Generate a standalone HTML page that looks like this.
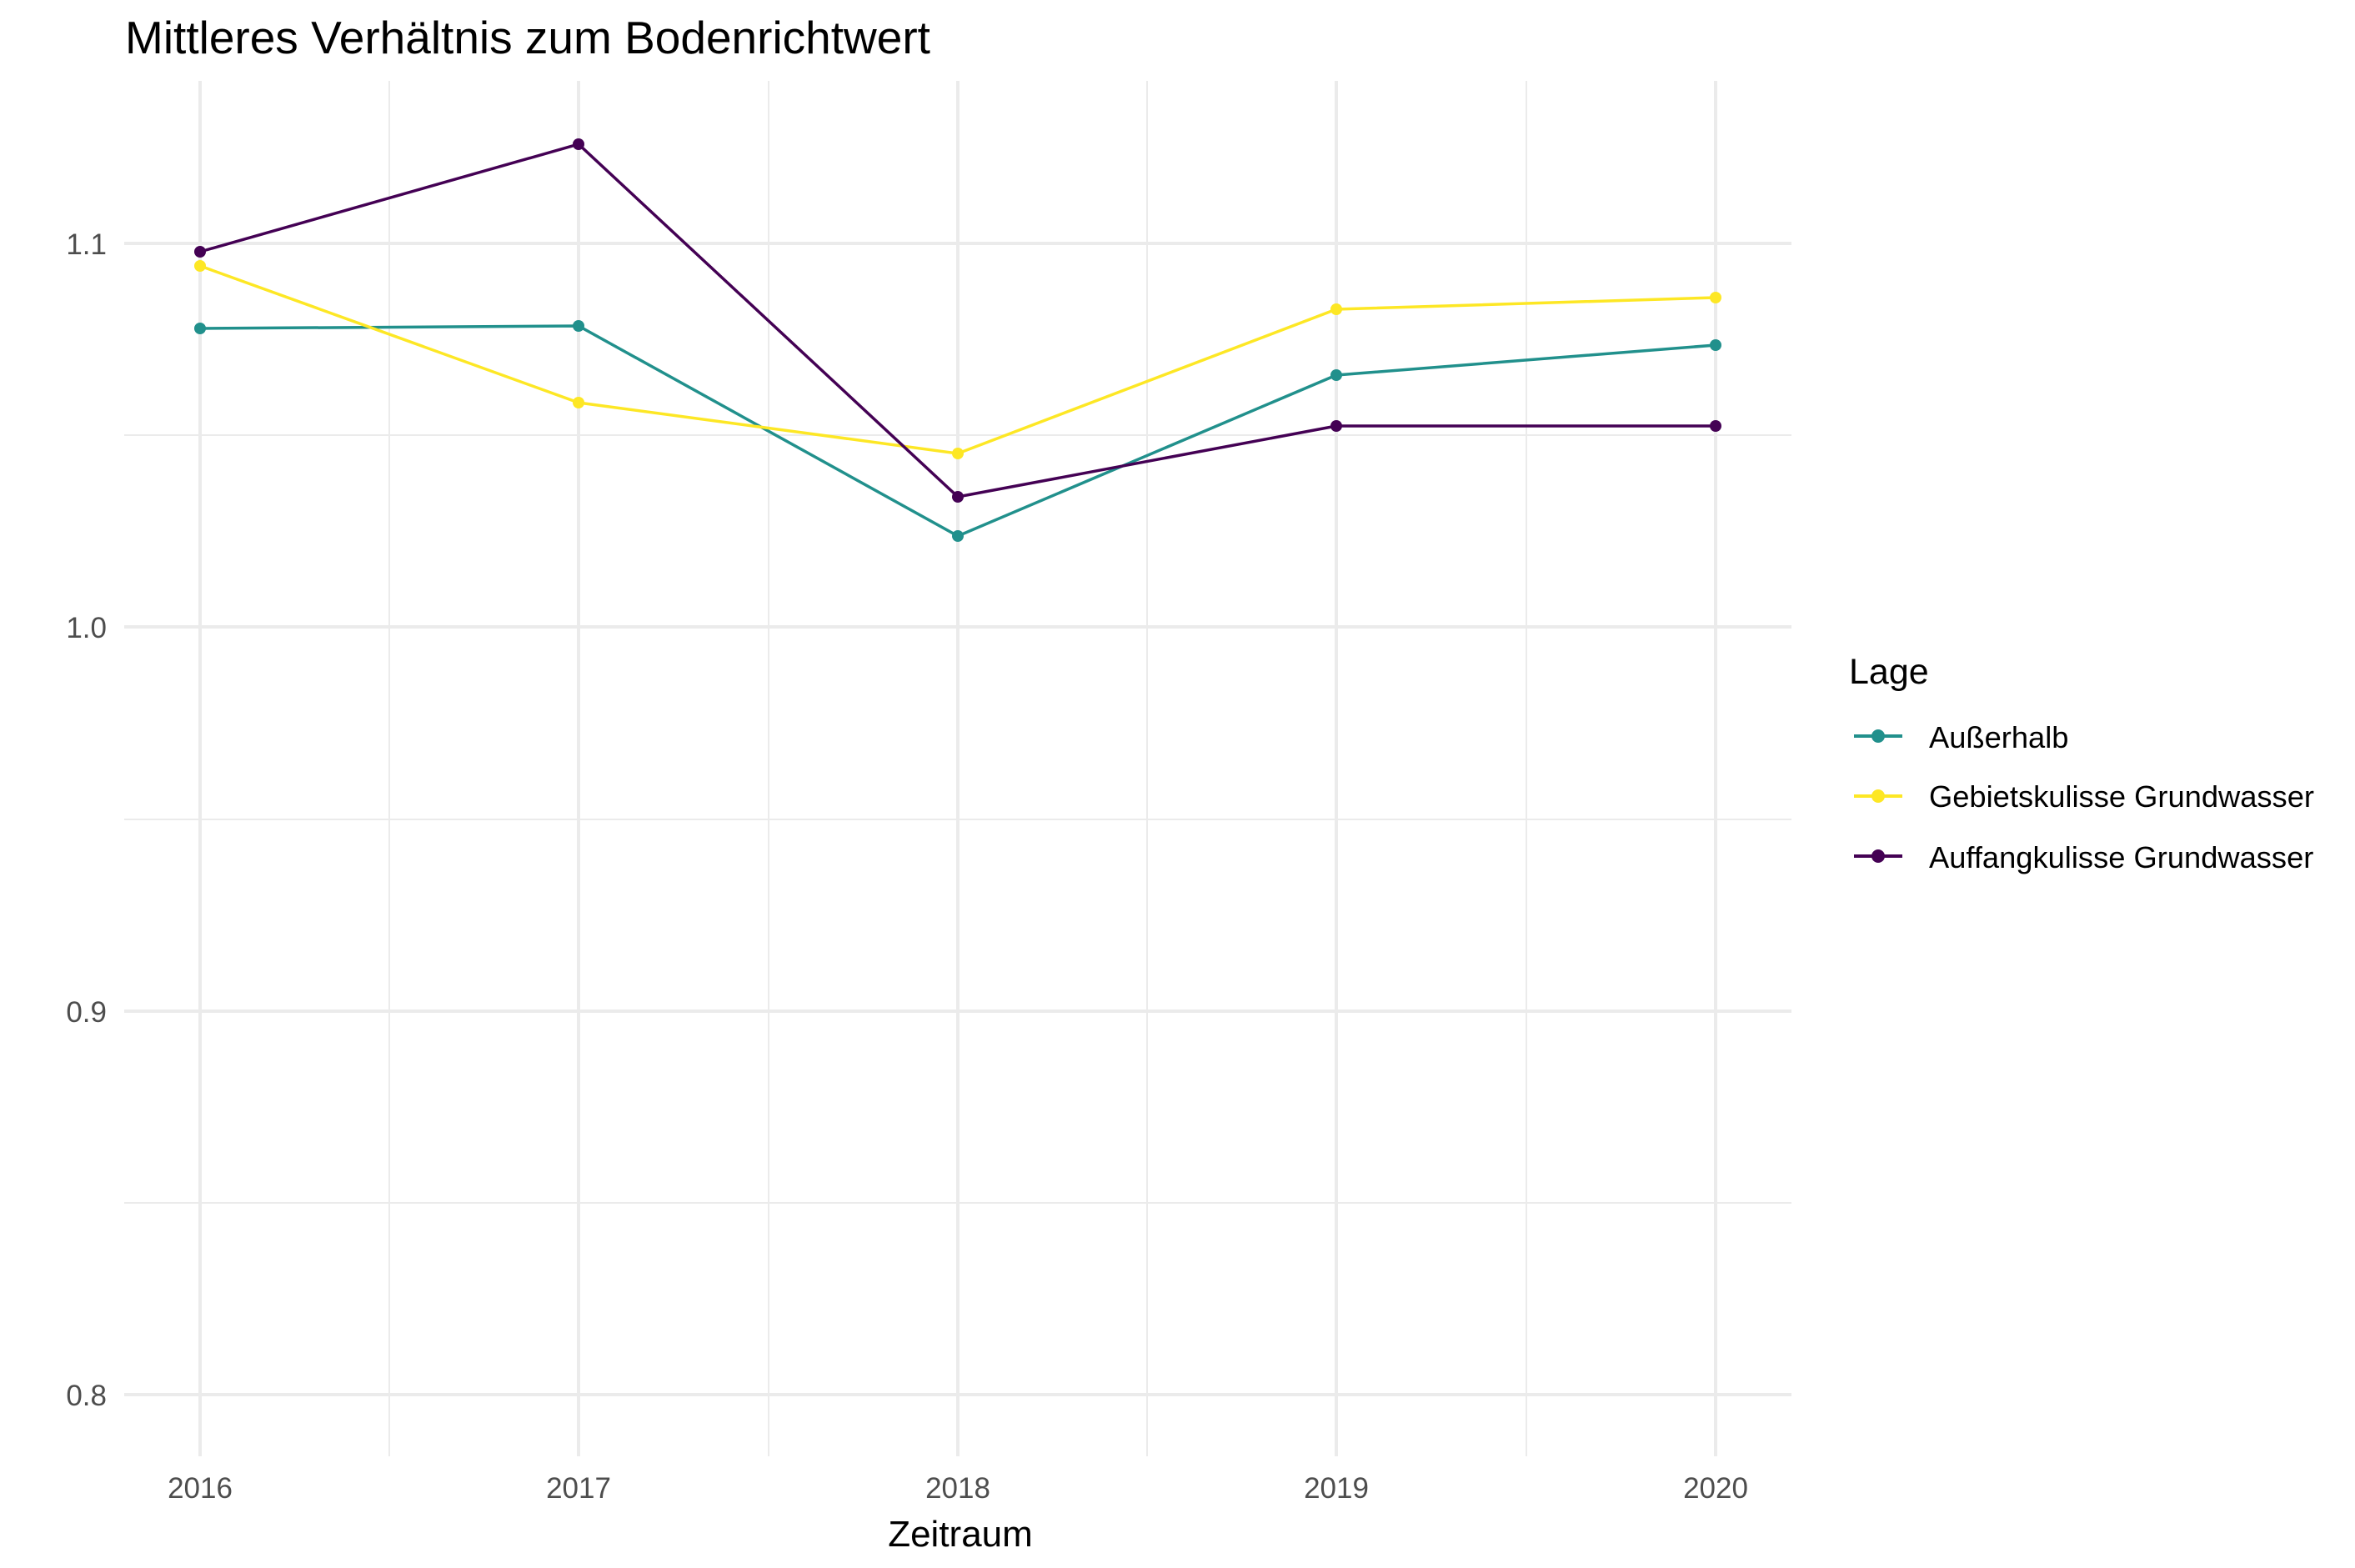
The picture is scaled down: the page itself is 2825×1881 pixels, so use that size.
<!DOCTYPE html>
<html><head><meta charset="utf-8"><style>body{margin:0;background:#fff}svg{display:block}</style></head><body>
<svg width="2825" height="1881" xmlns="http://www.w3.org/2000/svg" font-family="Liberation Sans, sans-serif">
<rect width="2825" height="1881" fill="#fff"/>
<g stroke="#ebebeb">
<g stroke-width="2">
<line x1="149" x2="2149" y1="522" y2="522"/><line x1="149" x2="2149" y1="983" y2="983"/><line x1="149" x2="2149" y1="1443" y2="1443"/>
<line x1="467" x2="467" y1="97" y2="1747"/><line x1="922" x2="922" y1="97" y2="1747"/><line x1="1376" x2="1376" y1="97" y2="1747"/><line x1="1831" x2="1831" y1="97" y2="1747"/>
</g>
<g stroke-width="4">
<line x1="149" x2="2149" y1="292" y2="292"/><line x1="149" x2="2149" y1="752" y2="752"/><line x1="149" x2="2149" y1="1213" y2="1213"/><line x1="149" x2="2149" y1="1673" y2="1673"/>
<line x1="240" x2="240" y1="97" y2="1747"/><line x1="694" x2="694" y1="97" y2="1747"/><line x1="1149" x2="1149" y1="97" y2="1747"/><line x1="1603" x2="1603" y1="97" y2="1747"/><line x1="2058" x2="2058" y1="97" y2="1747"/>
</g></g>
<g fill="none" stroke-width="3.5">
<polyline stroke="#21908c" points="240,394 694,391 1149,643 1603,450 2058,414"/>
<polyline stroke="#fde725" points="240,319 694,483 1149,544 1603,371 2058,357"/>
<polyline stroke="#440154" points="240,302 694,173 1149,596 1603,511 2058,511"/>
</g>
<g fill="#21908c"><circle cx="240" cy="394" r="7"/><circle cx="694" cy="391" r="7"/><circle cx="1149" cy="643" r="7"/><circle cx="1603" cy="450" r="7"/><circle cx="2058" cy="414" r="7"/></g>
<g fill="#fde725"><circle cx="240" cy="319" r="7"/><circle cx="694" cy="483" r="7"/><circle cx="1149" cy="544" r="7"/><circle cx="1603" cy="371" r="7"/><circle cx="2058" cy="357" r="7"/></g>
<g fill="#440154"><circle cx="240" cy="302" r="7"/><circle cx="694" cy="173" r="7"/><circle cx="1149" cy="596" r="7"/><circle cx="1603" cy="511" r="7"/><circle cx="2058" cy="511" r="7"/></g>
<text x="150" y="64" font-size="55" fill="#000">Mittleres Verhältnis zum Bodenrichtwert</text>
<g font-size="35" fill="#4d4d4d" text-anchor="end">
<text x="128" y="305">1.1</text><text x="128" y="765">1.0</text><text x="128" y="1226">0.9</text><text x="128" y="1686">0.8</text>
</g>
<g font-size="35" fill="#4d4d4d" text-anchor="middle">
<text x="240" y="1797">2016</text><text x="694" y="1797">2017</text><text x="1149" y="1797">2018</text><text x="1603" y="1797">2019</text><text x="2058" y="1797">2020</text>
</g>
<text x="1152" y="1855" font-size="44" text-anchor="middle" fill="#000">Zeitraum</text>
<text x="2218" y="820" font-size="43" fill="#000">Lage</text>
<g stroke-width="4">
<line x1="2224" x2="2282" y1="883" y2="883" stroke="#21908c"/><circle cx="2253" cy="883" r="8" fill="#21908c"/>
<line x1="2224" x2="2282" y1="955" y2="955" stroke="#fde725"/><circle cx="2253" cy="955" r="8" fill="#fde725"/>
<line x1="2224" x2="2282" y1="1027" y2="1027" stroke="#440154"/><circle cx="2253" cy="1027" r="8" fill="#440154"/>
</g>
<g font-size="36.3" fill="#000">
<text x="2314" y="897">Außerhalb</text><text x="2314" y="968">Gebietskulisse Grundwasser</text><text x="2314" y="1041">Auffangkulisse Grundwasser</text>
</g>
</svg>
</body></html>
